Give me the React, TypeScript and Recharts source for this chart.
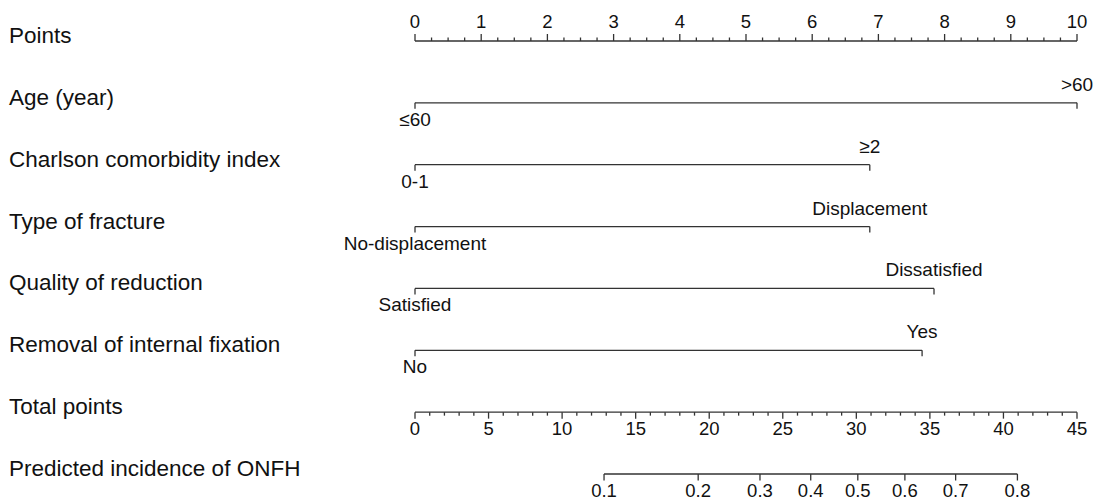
import { ComposedChart, ReferenceLine, Scatter, XAxis, YAxis } from 'recharts';

// row labels, top to bottom
const rowLabels = [
  'Points',
  'Age (year)',
  'Charlson comorbidity index',
  'Type of fracture',
  'Quality of reduction',
  'Removal of internal fixation',
  'Total points',
  'Predicted incidence of ONFH',
];

// points scale
const pointMajor = [0, 1, 2, 3, 4, 5, 6, 7, 8, 9, 10];
const pointMinor = Array.from({ length: 41 }, (_, i) => i * 0.25).filter((v) => !Number.isInteger(v));

// predictors (rows 1..5): reference level at 0 points, other level at highPoints
const lowLevels = ['≤60', '0-1', 'No-displacement', 'Satisfied', 'No'];
const highLevels = ['>60', '≥2', 'Displacement', 'Dissatisfied', 'Yes'];
const lowPoints = [0, 0, 0, 0, 0];
const highPoints = [10, 6.87, 6.87, 7.84, 7.66];

// total points scale
const totalMajor = [0, 5, 10, 15, 20, 25, 30, 35, 40, 45];
const totalMinor = Array.from({ length: 46 }, (_, i) => i).filter((v) => v % 5 !== 0);

// predicted incidence, positioned on the total points scale
const probLabels = ['0.1', '0.2', '0.3', '0.4', '0.5', '0.6', '0.7', '0.8'];
const probTotals = [12.85, 19.25, 23.45, 26.9, 30.1, 33.3, 36.75, 40.95];

const FONT = 'Liberation Sans, Arial, Helvetica, sans-serif';
const LINE = '#333';
const TEXT = '#111';
const LABEL_W = 406;
const TICK_FS = 18.5;
const LEVEL_FS = 19;

const pointTicks = [
  ...pointMajor.map((v) => ({ x: v, y: 0, label: String(v), major: true })),
  ...pointMinor.map((v) => ({ x: v, y: 0, label: '', major: false })),
];
const totalTicks = [
  ...totalMajor.map((v) => ({ x: v, y: 6, label: String(v), major: true })),
  ...totalMinor.map((v) => ({ x: v, y: 6, label: '', major: false })),
];
const probTicks = probTotals.map((v, i) => ({ x: v, y: 7, label: probLabels[i], major: true }));
const levelTicks = highPoints.flatMap((hp, i) => [
  { x: lowPoints[i], y: i + 1, label: lowLevels[i], above: false },
  { x: hp, y: i + 1, label: highLevels[i], above: true },
]);

const UpTick = (props: any) => {
  const { cx, cy, payload } = props;
  return (
    <g>
      <line x1={cx} y1={cy} x2={cx} y2={cy - (payload.major ? 7 : 3.5)} stroke={LINE} strokeWidth={1.3} />
      {payload.label && (
        <text x={cx} y={cy - 13} textAnchor="middle" fontSize={TICK_FS} fontFamily={FONT} fill={TEXT}>
          {payload.label}
        </text>
      )}
    </g>
  );
};

const DownTick = (props: any) => {
  const { cx, cy, payload } = props;
  return (
    <g>
      <line x1={cx} y1={cy} x2={cx} y2={cy + (payload.major ? 6.5 : 3.5)} stroke={LINE} strokeWidth={1.3} />
      {payload.label && (
        <text x={cx} y={cy + 23} textAnchor="middle" fontSize={TICK_FS} fontFamily={FONT} fill={TEXT}>
          {payload.label}
        </text>
      )}
    </g>
  );
};

const LevelTick = (props: any) => {
  const { cx, cy, payload } = props;
  return (
    <g>
      <line x1={cx} y1={cy} x2={cx} y2={cy + 6} stroke={LINE} strokeWidth={1.3} />
      <text
        x={cx}
        y={payload.above ? cy - 12 : cy + 23}
        textAnchor="middle"
        fontSize={LEVEL_FS}
        fontFamily={FONT}
        fill={TEXT}
      >
        {payload.label}
      </text>
    </g>
  );
};

const RowLabel = (props: any) => {
  const { x, y, payload } = props;
  return (
    <text x={x - LABEL_W} y={y + 2} textAnchor="start" fontSize={22.5} fontFamily={FONT} fill={TEXT}>
      {rowLabels[payload.value]}
    </text>
  );
};

export default function App() {
  return (
    <div style={{ position: 'absolute', left: 0, top: 0, background: '#fff' }}>
      <ComposedChart width={1095} height={501} margin={{ top: 41, right: 18, bottom: 27, left: 9 }}>
        <XAxis xAxisId="pts" dataKey="x" type="number" domain={[0, 10]} hide />
        <XAxis xAxisId="tot" dataKey="x" type="number" domain={[0, 45]} hide />
        <YAxis
          dataKey="y"
          type="number"
          domain={[0, 7]}
          ticks={[0, 1, 2, 3, 4, 5, 6, 7]}
          reversed
          width={LABEL_W}
          axisLine={false}
          tickLine={false}
          tickSize={0}
          tickMargin={0}
          tick={<RowLabel />}
          interval={0}
        />

        <ReferenceLine xAxisId="pts" segment={[{ x: 0, y: 0 }, { x: 10, y: 0 }]} stroke={LINE} strokeWidth={1.3} />
        {highPoints.map((hp, i) => (
          <ReferenceLine
            key={i}
            xAxisId="pts"
            segment={[{ x: lowPoints[i], y: i + 1 }, { x: hp, y: i + 1 }]}
            stroke={LINE}
            strokeWidth={1.3}
          />
        ))}
        <ReferenceLine xAxisId="tot" segment={[{ x: 0, y: 6 }, { x: 45, y: 6 }]} stroke={LINE} strokeWidth={1.3} />
        <ReferenceLine
          xAxisId="tot"
          segment={[{ x: probTotals[0], y: 7 }, { x: probTotals[probTotals.length - 1], y: 7 }]}
          stroke={LINE}
          strokeWidth={1.3}
        />

        <Scatter xAxisId="pts" data={pointTicks} shape={<UpTick />} isAnimationActive={false} />
        <Scatter xAxisId="pts" data={levelTicks} shape={<LevelTick />} isAnimationActive={false} />
        <Scatter xAxisId="tot" data={totalTicks} shape={<DownTick />} isAnimationActive={false} />
        <Scatter xAxisId="tot" data={probTicks} shape={<DownTick />} isAnimationActive={false} />
      </ComposedChart>
    </div>
  );
}
